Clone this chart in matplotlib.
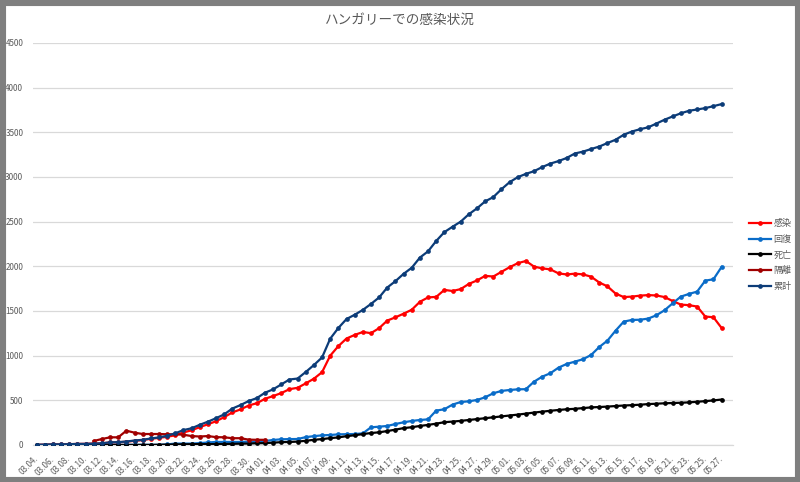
import numpy as np
import pandas as pd
import matplotlib
matplotlib.use("Agg")
import matplotlib.pyplot as plt
from matplotlib.patches import Rectangle

plt.rcParams['font.family'] = ['Noto Sans CJK JP', 'DejaVu Sans']

nan = np.nan

# categories: daily, 03.04 - 05.27
dates = pd.date_range("2020-03-04", "2020-05-27").strftime("%m.%d.").tolist()

# 感染 (active)
active = [2, 4, 7, 7, 9, 12, 13, 16, 18, 29,
          30, 37, 47, 55, 70, 80, 92, 109, 140, 165,
          200, 232, 266, 312, 365, 398, 442, 468, 517, 548,
          581, 625, 640, 690, 742, 815, 1000, 1107, 1192, 1232,
          1265, 1252, 1308, 1393, 1429, 1470, 1514, 1603, 1652, 1658,
          1736, 1724, 1745, 1803, 1842, 1893, 1886, 1938, 1990, 2035,
          2060, 1997, 1977, 1966, 1921, 1909, 1918, 1910, 1884, 1819,
          1776, 1695, 1656, 1661, 1672, 1678, 1674, 1656, 1612, 1572,
          1565, 1550, 1438, 1430, 1310]

# 回復 (recovered)
recovered = [0, 0, 0, 0, 0, 0, 0, 0, 1, 1,
             1, 1, 2, 2, 2, 2, 7, 16, 16, 16,
             21, 28, 34, 34, 34, 34, 37, 37, 45, 56,
             64, 66, 67, 88, 99, 108, 112, 119, 121, 123,
             130, 198, 205, 213, 235, 254, 269, 280, 287, 385,
             400, 452, 481, 489, 504, 534, 579, 605, 616, 623,
             625, 709, 765, 803, 866, 907, 933, 960, 1008, 1097,
             1168, 1280, 1381, 1400, 1402, 1415, 1452, 1508, 1586, 1661,
             1691, 1717, 1840, 1855, 1993]

# 死亡 (deaths)
deaths = [0, 0, 0, 0, 0, 0, 0, 0, 0, 0,
          1, 1, 1, 1, 1, 3, 4, 6, 7, 9,
          10, 10, 10, 11, 13, 15, 16, 20, 21, 26,
          32, 34, 38, 47, 58, 66, 77, 85, 99, 109,
          122, 134, 142, 156, 172, 189, 199, 213, 225, 239,
          255, 262, 270, 280, 290, 300, 310, 320, 330, 340,
          351, 363, 373, 383, 392, 400, 405, 413, 421, 425,
          430, 436, 442, 446, 451, 458, 462, 467, 470, 473,
          477, 484, 491, 499, 509]

# 隔離 (quarantine)
isolated = [nan, nan, nan, nan, nan, nan, nan, 45, 67, 86,
            86, 160, 138, 123, 123, 123, 120, 120, 115, 100,
            95, 100, 88, 86, 76, 76, 60, 58, 58, nan] + [nan] * 55

# 累計 (cumulative)
total = [2, 4, 7, 7, 9, 12, 13, 16, 19, 30,
         32, 39, 50, 58, 73, 85, 103, 131, 167, 187,
         226, 261, 300, 343, 408, 447, 492, 525, 585, 623,
         678, 733, 744, 817, 895, 980, 1190, 1310, 1410, 1458,
         1512, 1579, 1652, 1763, 1834, 1916, 1984, 2098, 2168, 2284,
         2383, 2443, 2500, 2583, 2649, 2727, 2775, 2863, 2942, 2998,
         3035, 3065, 3111, 3150, 3178, 3213, 3263, 3284, 3313, 3341,
         3380, 3417, 3473, 3509, 3535, 3556, 3598, 3641, 3678, 3713,
         3741, 3756, 3771, 3793, 3816]

series = [
    ("感染", active, "#FF0000"),
    ("回復", recovered, "#0A6CC8"),
    ("死亡", deaths, "#000000"),
    ("隔離", isolated, "#A00000"),
    ("累計", total, "#0C3C78"),
]

text_gray = "#595959"
grid_gray = "#D9D9D9"

fig = plt.figure(figsize=(8, 4.82), dpi=100, facecolor="white")
ax = fig.add_axes([33 / 800, 1 - 445 / 482, 700 / 800, 402 / 482])

x = np.arange(len(dates))
for name, vals, col in series:
    ax.plot(x, vals, color=col, lw=1.6, marker="o", markersize=3.4,
            markeredgewidth=0, label=name, zorder=3)

ax.set_ylim(0, 4500)
ax.set_xlim(-0.45, 85.4)
ax.set_yticks(np.arange(0, 4501, 500))
ax.yaxis.grid(True, color=grid_gray, lw=0.9)
ax.set_axisbelow(True)
for s in ["top", "right", "left"]:
    ax.spines[s].set_visible(False)
ax.spines["bottom"].set_color(grid_gray)
ax.spines["bottom"].set_linewidth(0.9)

ax.set_xticks(x[::2])
ax.set_xticklabels(dates[::2], rotation=45, ha="right", va="center",
                   rotation_mode="anchor", fontsize=5.8, color=text_gray)
ax.tick_params(axis="x", length=0, pad=9)
ax.tick_params(axis="y", length=0, pad=7, labelsize=5.8, labelcolor=text_gray)

fig.text(0.5, 1 - 20 / 482, "ハンガリーでの感染状況", ha="center", va="center",
         fontsize=9.8, color=text_gray)

leg = fig.legend(loc="center left", bbox_to_anchor=(744 / 800, 1 - 255 / 482),
                 frameon=False, fontsize=6.5, handlelength=2.5,
                 handletextpad=0.25, labelspacing=0.75, borderpad=0)
for t in leg.get_texts():
    t.set_color(text_gray)

fig.patches.append(Rectangle((0, 0), 1, 1, transform=fig.transFigure, fill=False,
                             edgecolor="#7F7F7F", lw=8, zorder=10))

fig.savefig("out.png", dpi=100, facecolor="white")
